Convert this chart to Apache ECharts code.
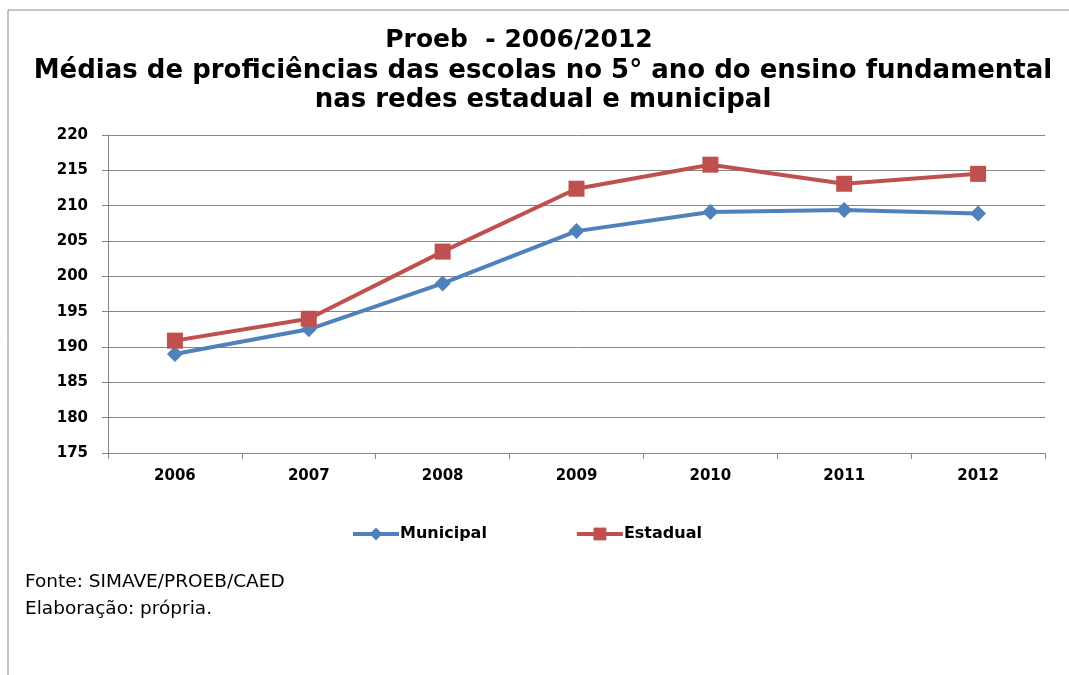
<!DOCTYPE html>
<html>
<head>
<meta charset="utf-8">
<script src="https://cdn.jsdelivr.net/npm/echarts@6/dist/echarts.min.js"></script>
<style>
  html, body { margin: 0; padding: 0; background: #fff; }
  #chart { width: 1069px; height: 675px; }
</style>
</head>
<body>
<div id="chart"></div>
<script>
// dados
var anos = ['2006', '2007', '2008', '2009', '2010', '2011', '2012'];
var municipal = [189.0, 192.5, 199.0, 206.4, 209.1, 209.4, 208.9];
var estadual = [190.9, 194.0, 203.5, 212.4, 215.8, 213.1, 214.5];
var nomesSeries = ['Municipal', 'Estadual'];

var chart = echarts.init(document.getElementById('chart'));
var fonte = 'DejaVu Sans';

var option = {
    backgroundColor: '#fff',
    animation: false,
    title: [
        {
            text: 'Proeb  - 2006/2012',
            left: 519,
            top: 28,
            textAlign: 'center',
            padding: 0,
            textStyle: { fontFamily: fonte, fontWeight: 'bold', fontSize: 25, color: '#000' }
        },
        {
            text: 'Médias de proficiências das escolas no 5° ano do ensino fundamental\nnas redes estadual e municipal',
            left: 543,
            top: 57,
            textAlign: 'center',
            padding: 0,
            textStyle: {
                fontFamily: fonte,
                fontWeight: 'bold',
                fontSize: 26,
                lineHeight: 29,
                color: '#000'
            }
        },
        {
            text: 'Fonte: SIMAVE/PROEB/CAED\nElaboração: própria.',
            left: 25,
            top: 569,
            padding: 0,
            textStyle: {
                fontFamily: fonte,
                fontWeight: 'normal',
                fontSize: 18.5,
                lineHeight: 27,
                color: '#000'
            }
        }
    ],
    graphic: [
        {
            type: 'polyline',
            shape: { points: [[8, 675], [8, 10], [1069, 10]] },
            style: { stroke: '#8c8c8c', lineWidth: 1, fill: null }
        }
    ],
    legend: {
        data: nomesSeries,
        top: 521,
        left: 346,
        itemGap: 88,
        itemWidth: 46,
        itemHeight: 16,
        lineStyle: { width: 4 },
        textStyle: {
            fontFamily: fonte,
            fontWeight: 'bold',
            fontSize: 16,
            color: '#000',
            padding: [0, 0, 0, -4]
        }
    },
    grid: {
        left: 108,
        right: 24,
        top: 135,
        bottom: 222
    },
    xAxis: {
        type: 'category',
        data: anos,
        boundaryGap: true,
        axisLine: { lineStyle: { color: '#868686', width: 1 } },
        axisTick: { show: true, length: 6, lineStyle: { color: '#868686' } },
        axisLabel: {
            margin: 16,
            fontFamily: fonte,
            fontWeight: 'bold',
            fontSize: 15,
            color: '#000'
        }
    },
    yAxis: {
        type: 'value',
        min: 175,
        max: 220,
        interval: 5,
        axisLine: { show: true, lineStyle: { color: '#868686', width: 1 } },
        axisTick: { show: true, length: 6, lineStyle: { color: '#868686' } },
        splitLine: { lineStyle: { color: '#868686', width: 1 } },
        axisLabel: {
            margin: 20,
            fontFamily: fonte,
            fontWeight: 'bold',
            fontSize: 15,
            color: '#000'
        }
    },
    series: [
        {
            name: nomesSeries[0],
            type: 'line',
            data: municipal,
            symbol: 'diamond',
            symbolSize: 16,
            lineStyle: { color: '#4F81BD', width: 4 },
            itemStyle: { color: '#4F81BD' }
        },
        {
            name: nomesSeries[1],
            type: 'line',
            data: estadual,
            symbol: 'rect',
            symbolSize: 16,
            lineStyle: { color: '#C0504D', width: 4 },
            itemStyle: { color: '#C0504D' }
        }
    ]
};

chart.setOption(option);
</script>
</body>
</html>
